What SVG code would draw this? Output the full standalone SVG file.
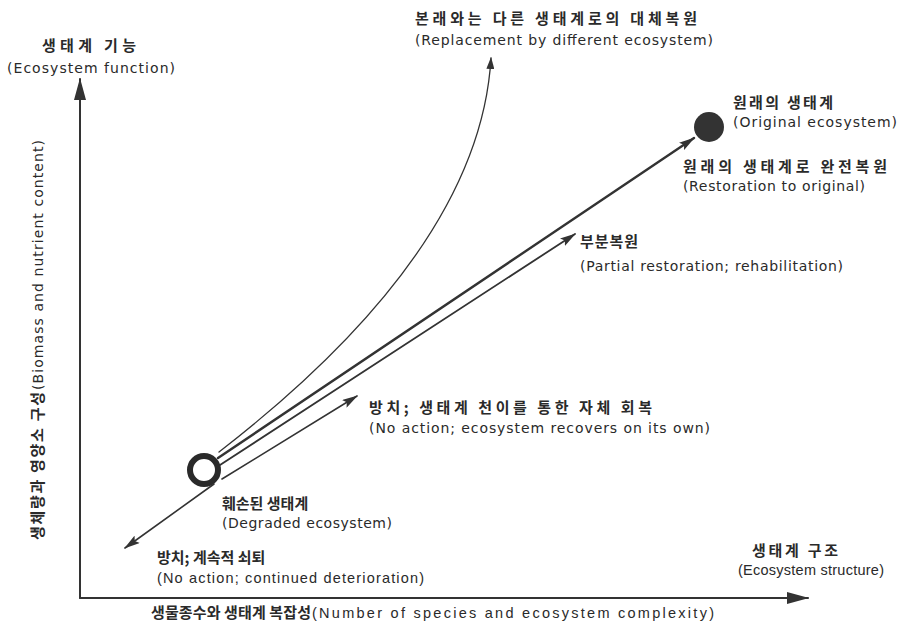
<svg xmlns="http://www.w3.org/2000/svg" width="900" height="625" viewBox="0 0 900 625">
<defs>
<style>
.ko{font-family:"Noto Sans CJK KR","Noto Sans",sans-serif;font-weight:bold;font-size:15px;fill:#2a2a2a}
.en{font-family:"DejaVu Sans","Noto Sans CJK KR",sans-serif;font-size:14px;fill:#2a2a2a}
.nr{font-family:"Liberation Sans","Noto Sans CJK KR",sans-serif;font-size:14.5px;fill:#2a2a2a}
.ln{fill:none;stroke:#333;stroke-linecap:round}
</style>
<marker id="ax" markerUnits="userSpaceOnUse" viewBox="0 0 22 12" refX="21" refY="6" markerWidth="22" markerHeight="12" orient="auto">
<path d="M0,0 L22,6 L0,12 Z" fill="#333"/>
</marker>
<marker id="ar" markerUnits="userSpaceOnUse" viewBox="0 0 16 9" refX="15" refY="4.5" markerWidth="16" markerHeight="9" orient="auto">
<path d="M0,0 L16,4.5 L0,9 L3,4.5 Z" fill="#333"/>
</marker>
<marker id="ars" markerUnits="userSpaceOnUse" viewBox="0 0 12 8" refX="11" refY="4" markerWidth="12" markerHeight="8" orient="auto">
<path d="M0,0 L12,4 L0,8 Z" fill="#333"/>
</marker>
</defs>
<rect width="900" height="625" fill="#fff"/>

<g id="axes">
<line class="ln" x1="80" y1="598" x2="80" y2="79" stroke-width="2" marker-end="url(#ax)"/>
<line class="ln" x1="80" y1="598" x2="808" y2="598" stroke-width="2" marker-end="url(#ax)"/>
</g>

<g id="connectors">
<path class="ln" d="M219,452 Q480,250 491,58" stroke-width="1.3" marker-end="url(#ars)"/>
<line class="ln" x1="218" y1="458" x2="694" y2="138" stroke-width="2.4" marker-end="url(#ar)"/>
<line class="ln" x1="220" y1="465" x2="575" y2="234" stroke-width="1.8" marker-end="url(#ar)"/>
<line class="ln" x1="222" y1="479" x2="357" y2="396" stroke-width="1.6" marker-end="url(#ar)"/>
<line class="ln" x1="214" y1="484" x2="125" y2="548" stroke-width="1.6" marker-end="url(#ar)"/>
</g>

<g id="degraded">
<circle cx="204" cy="470" r="14" fill="#fff" stroke="#2a2a2a" stroke-width="6"/>
<text class="ko" x="222" y="509" font-size="14">훼손된 생태계</text>
<text class="en" x="222" y="528" textLength="170" lengthAdjust="spacing">(Degraded ecosystem)</text>
</g>

<g id="original">
<circle cx="709" cy="127" r="15" fill="#333"/>
<text class="ko" x="733" y="108" textLength="100" lengthAdjust="spacing">원래의 생태계</text>
<text class="en" x="733" y="127" textLength="164" lengthAdjust="spacing">(Original ecosystem)</text>
</g>

<g id="full-restoration">
<text class="ko" x="683" y="172" textLength="204" lengthAdjust="spacing">원래의 생태계로 완전복원</text>
<text class="en" x="683" y="191" textLength="182" lengthAdjust="spacing">(Restoration to original)</text>
</g>

<g id="replacement">
<text class="ko" x="415" y="24" textLength="282" lengthAdjust="spacing">본래와는 다른 생태계로의 대체복원</text>
<text class="en" x="415" y="45" textLength="298" lengthAdjust="spacing">(Replacement by different ecosystem)</text>
</g>

<g id="partial">
<text class="ko" x="580" y="247" textLength="58" lengthAdjust="spacing">부분복원</text>
<text class="en" x="580" y="271" textLength="263" lengthAdjust="spacing">(Partial restoration; rehabilitation)</text>
</g>

<g id="self-recovery">
<text class="ko" x="369" y="413" textLength="283" lengthAdjust="spacing">방치; 생태계 천이를 통한 자체 회복</text>
<text class="en" x="369" y="433" textLength="341" lengthAdjust="spacing">(No action; ecosystem recovers on its own)</text>
</g>

<g id="deterioration">
<text class="ko" x="157" y="563" font-size="14">방치; 계속적 쇠퇴</text>
<text class="nr" x="157" y="583" textLength="267" lengthAdjust="spacing">(No action; continued deterioration)</text>
</g>

<g id="y-axis-label">
<text class="ko" x="42" y="51" textLength="94" lengthAdjust="spacing">생태계 기능</text>
<text class="en" x="7" y="73" textLength="168" lengthAdjust="spacing">(Ecosystem function)</text>
<g transform="translate(43,540) rotate(-90)">
<text class="ko" x="0" y="0" font-size="14" textLength="148" lengthAdjust="spacing">생체량과 영양소 구성</text>
<text class="en" x="150" y="0" font-size="13.5" textLength="250" lengthAdjust="spacing">(Biomass and nutrient content)</text>
</g>
</g>

<g id="x-axis-label">
<text class="ko" x="752" y="556" textLength="86" lengthAdjust="spacing">생태계 구조</text>
<text class="nr" x="738" y="575" textLength="146" lengthAdjust="spacing">(Ecosystem structure)</text>
<text class="ko" x="151" y="618" font-size="15.5" textLength="160" lengthAdjust="spacing">생물종수와 생태계 복잡성</text>
<text class="nr" x="312" y="618" font-size="16" textLength="402" lengthAdjust="spacing">(Number of species and ecosystem complexity)</text>
</g>
</svg>
